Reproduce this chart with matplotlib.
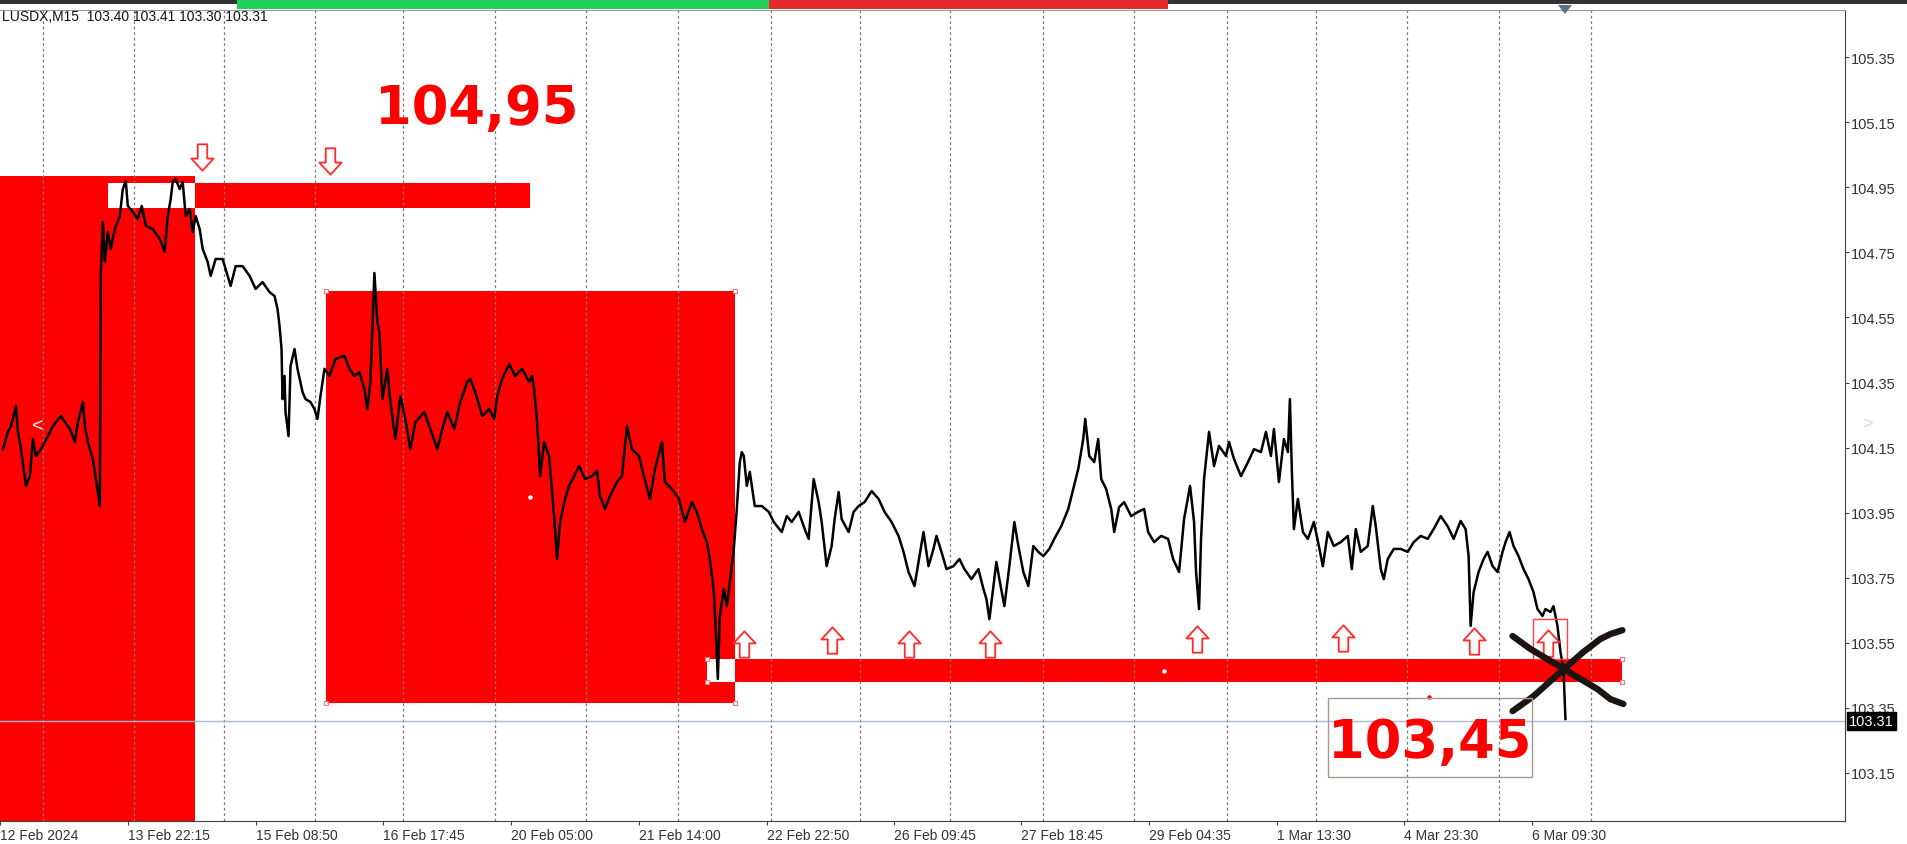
#!/usr/bin/env python3
"""USDX M15 chart with supply / demand zones, redrawn with matplotlib."""

from __future__ import annotations

import matplotlib

matplotlib.use("Agg")
import matplotlib.pyplot as plt
from matplotlib.patches import Rectangle
from matplotlib.path import Path

W, H = 1907, 845
FONT = "Liberation Sans"
BIG_FONT = "DejaVu Sans"
RED = "#ff0000"

HEADER = "LUSDX,M15  103.40 103.41 103.30 103.31"
CURRENT_PRICE = 103.31

# price line: bar index -> close
BARS = [0, 5, 8, 13, 15, 18, 23, 27, 30, 33, 38, 45, 50, 58, 67, 72, 75, 80, 82, 85, 90, 93, 97,
        98, 100, 102, 105, 108, 112, 117, 120, 123, 125, 130, 135, 139, 143, 150, 157, 162, 165,
        168, 170, 173, 177, 180, 183, 187, 190, 193, 197, 200, 205, 208, 213, 220, 223, 228, 233,
        240, 247, 253, 260, 267, 272, 275, 277, 279, 280, 282, 283, 286, 288, 292, 295, 300, 303,
        308, 312, 315, 318, 322, 327, 333, 342, 347, 352, 357, 362, 365, 368, 372, 375, 377, 380,
        385, 388, 393, 398, 403, 408, 413, 422, 428, 435, 440, 445, 452, 458, 465, 468, 473, 480,
        487, 492, 495, 500, 507, 513, 520, 527, 530, 532, 535, 538, 542, 547, 552, 555, 558, 563,
        567, 572, 577, 583, 590, 595, 598, 603, 608, 615, 620, 625, 630, 637, 642, 648, 653, 660,
        663, 670, 677, 683, 690, 695, 700, 705, 708, 712, 714, 716, 718, 722, 725, 728, 732, 735,
        738, 740, 742, 745, 748, 753, 760, 767, 772, 780, 785, 790, 797, 803, 807, 812, 817, 820,
        825, 830, 833, 837, 840, 847, 852, 857, 863, 870, 877, 883, 890, 897, 902, 907, 913, 918,
        922, 927, 932, 935, 940, 945, 952, 958, 963, 970, 977, 982, 985, 988, 992, 995, 998, 1003,
        1008, 1013, 1017, 1022, 1027, 1032, 1037, 1042, 1048, 1053, 1060, 1067, 1072, 1077, 1082,
        1084, 1088, 1093, 1097, 1100, 1105, 1110, 1113, 1118, 1123, 1130, 1137, 1143, 1147, 1153,
        1160, 1167, 1172, 1178, 1183, 1189, 1193, 1195, 1198, 1200, 1203, 1208, 1213, 1218, 1225,
        1228, 1233, 1240, 1247, 1253, 1260, 1265, 1270, 1273, 1278, 1283, 1287, 1289, 1291, 1293,
        1297, 1302, 1307, 1313, 1318, 1322, 1327, 1333, 1340, 1347, 1351, 1355, 1360, 1367, 1372,
        1375, 1380, 1383, 1387, 1393, 1400, 1407, 1413, 1420, 1427, 1433, 1440, 1447, 1453, 1460,
        1465, 1468, 1470, 1473, 1478, 1483, 1487, 1492, 1497, 1502, 1505, 1509, 1513, 1518, 1523,
        1528, 1533, 1537, 1542, 1545, 1550, 1553, 1557, 1560, 1563, 1565]
PRICES = [104.145, 104.198, 104.216, 104.278, 104.198, 104.145, 104.032, 104.062, 104.176, 104.124,
          104.145, 104.185, 104.216, 104.247, 104.207, 104.167, 104.228, 104.290, 104.216, 104.167,
          104.115, 104.053, 103.970, 104.690, 104.844, 104.721, 104.813, 104.761, 104.822, 104.862,
          104.945, 104.970, 104.893, 104.875, 104.853, 104.893, 104.832, 104.822, 104.792, 104.752,
          104.862, 104.915, 104.967, 104.976, 104.945, 104.967, 104.862, 104.884, 104.813, 104.862,
          104.822, 104.761, 104.721, 104.678, 104.730, 104.730, 104.699, 104.647, 104.708, 104.708,
          104.678, 104.638, 104.659, 104.628, 104.616, 104.576, 104.524, 104.453, 104.299, 104.370,
          104.259, 104.185, 104.401, 104.453, 104.392, 104.321, 104.299, 104.290, 104.268, 104.238,
          104.308, 104.392, 104.370, 104.422, 104.432, 104.392, 104.370, 104.382, 104.330, 104.268,
          104.352, 104.687, 104.536, 104.505, 104.299, 104.392, 104.290, 104.176, 104.308, 104.238,
          104.145, 104.228, 104.259, 104.207, 104.145, 104.207, 104.259, 104.207, 104.290, 104.352,
          104.361, 104.321, 104.247, 104.268, 104.238, 104.308, 104.361, 104.407, 104.370, 104.392,
          104.352, 104.370, 104.330, 104.228, 104.062, 104.167, 104.124, 103.939, 103.807, 103.921,
          103.992, 104.032, 104.062, 104.093, 104.053, 104.062, 104.078, 104.001, 103.961, 104.001,
          104.044, 104.062, 104.216, 104.145, 104.124, 104.062, 103.992, 104.084, 104.167, 104.044,
          104.022, 103.992, 103.921, 103.982, 103.952, 103.899, 103.859, 103.807, 103.705, 103.582,
          103.438, 103.632, 103.715, 103.662, 103.736, 103.838, 103.961, 104.105, 104.136, 104.124,
          104.032, 104.075, 103.970, 103.970, 103.952, 103.921, 103.890, 103.939, 103.921, 103.952,
          103.899, 103.869, 104.053, 103.982, 103.921, 103.785, 103.847, 103.930, 104.013, 103.930,
          103.890, 103.952, 103.970, 103.982, 104.016, 103.992, 103.952, 103.921, 103.878, 103.829,
          103.767, 103.724, 103.816, 103.890, 103.785, 103.838, 103.878, 103.829, 103.776, 103.785,
          103.807, 103.776, 103.745, 103.776, 103.715, 103.684, 103.622, 103.724, 103.798, 103.745,
          103.662, 103.785, 103.921, 103.847, 103.767, 103.724, 103.847, 103.829, 103.816, 103.838,
          103.869, 103.908, 103.961, 104.022, 104.084, 104.176, 104.238, 104.124, 104.105, 104.176,
          104.053, 104.022, 103.961, 103.890, 103.967, 103.982, 103.939, 103.952, 103.961, 103.890,
          103.859, 103.878, 103.869, 103.807, 103.767, 103.930, 104.032, 103.921, 103.767, 103.653,
          103.869, 104.053, 104.198, 104.093, 104.155, 104.124, 104.167, 104.115, 104.062, 104.105,
          104.145, 104.136, 104.198, 104.124, 104.207, 104.044, 104.176, 104.136, 104.299, 104.075,
          103.899, 103.992, 103.890, 103.869, 103.921, 103.847, 103.785, 103.890, 103.847, 103.859,
          103.878, 103.776, 103.899, 103.829, 103.847, 103.970, 103.908, 103.776, 103.745, 103.807,
          103.838, 103.838, 103.829, 103.859, 103.878, 103.869, 103.899, 103.939, 103.908, 103.869,
          103.924, 103.899, 103.816, 103.601, 103.705, 103.767, 103.807, 103.829, 103.785, 103.767,
          103.829, 103.859, 103.890, 103.847, 103.816, 103.776, 103.745, 103.705, 103.653, 103.632,
          103.653, 103.644, 103.662, 103.601, 103.521, 103.469, 103.315]

# x axis labels and the bars they sit on
TICK_BARS = [-3, 125, 253, 381, 509, 637, 765, 892, 1020, 1148, 1276, 1403, 1531]
TICK_LABELS = ["12 Feb 2024", "13 Feb 22:15", "15 Feb 08:50", "16 Feb 17:45", "20 Feb 05:00",
               "21 Feb 14:00", "22 Feb 22:50", "26 Feb 09:45", "27 Feb 18:45", "29 Feb 04:35",
               "1 Mar 13:30", "4 Mar 23:30", "6 Mar 09:30"]
GRID_BARS = [40, 131, 221, 313, 401, 493, 584, 676, 769, 858, 949, 1042, 1133, 1226, 1315, 1406,
             1498, 1591]
PRICE_TICKS = [103.15, 103.35, 103.55, 103.75, 103.95, 104.15, 104.35, 104.55, 104.75, 104.95,
               105.15, 105.35]

# zones: (bar from, bar to, price low, price high)
BIG_ZONE = (-10, 192, 102.9, 104.986)
MID_ZONE = (324, 733, 103.364, 104.632)
SELL_ZONE = (105, 528, 104.887, 104.963)
BUY_ZONE = (705, 1622, 103.428, 103.499)

DOWN_ARROWS_X = [199, 328]
DOWN_ARROWS_Y = [105.044, 105.032]
UP_ARROWS_X = [742, 830, 907, 989, 1196, 1342, 1473, 1548]
UP_ARROWS_Y = [103.545, 103.558, 103.545, 103.545, 103.561, 103.564, 103.555, 103.548]

# hand-drawn cross over the last bars
CROSS_A_X = [1512, 1530, 1560, 1580, 1597, 1610, 1623]
CROSS_A_Y = [103.570, 103.530, 103.475, 103.438, 103.407, 103.376, 103.361]
CROSS_B_X = [1512, 1533, 1560, 1583, 1600, 1610, 1622]
CROSS_B_Y = [103.339, 103.385, 103.459, 103.521, 103.561, 103.576, 103.588]


def arrow_path(up: bool) -> Path:
    s = 1 if up else -1
    pts = [(0, 0.5), (0.42, 0.04), (0.18, 0.04), (0.18, -0.5), (-0.18, -0.5), (-0.18, 0.04),
           (-0.42, 0.04), (0, 0.5)]
    return Path([(x, s * y) for x, y in pts], closed=True)


def rect(ax, zone, color, z=1, **kw):
    x0, x1, y0, y1 = zone
    ax.add_patch(Rectangle((x0, y0), x1 - x0, y1 - y0, facecolor=color, edgecolor="none",
                           zorder=z, **kw))


def xor_overlap(a, b):
    return (max(a[0], b[0]), min(a[1], b[1]), max(a[2], b[2]), min(a[3], b[3]))


def fx(px: float) -> float:
    return px / W


def fy(py: float) -> float:
    return 1 - py / H


def main() -> int:
    fig = plt.figure(figsize=(W / 100, H / 100), dpi=100)
    fig.patch.set_facecolor("white")

    # terminal strip at the very top
    fig.add_artist(Rectangle((0, fy(5)), 1, 5 / H, transform=fig.transFigure,
                             facecolor="#333333", edgecolor="none"))
    fig.add_artist(Rectangle((fx(237), fy(10)), fx(532), 10 / H, transform=fig.transFigure,
                             facecolor="#22d05a", edgecolor="none"))
    fig.add_artist(Rectangle((fx(769), fy(10)), fx(399), 10 / H, transform=fig.transFigure,
                             facecolor="#e52a2a", edgecolor="none"))

    ax = fig.add_axes([0, fy(822), fx(1845), (822 - 11) / H])
    ax.set_xlim(0, 1845)
    ax.set_ylim(103.001, 105.496)
    ax.set_facecolor("white")

    # zones (MT4 draws overlapping rectangles in XOR, so overlaps become white)
    rect(ax, BIG_ZONE, RED)
    rect(ax, MID_ZONE, RED)
    rect(ax, SELL_ZONE, RED)
    rect(ax, BUY_ZONE, RED)
    rect(ax, xor_overlap(SELL_ZONE, BIG_ZONE), "white", z=1.5)
    rect(ax, xor_overlap(BUY_ZONE, MID_ZONE), "white", z=1.5)

    corners_x = [MID_ZONE[0], MID_ZONE[1], MID_ZONE[0], MID_ZONE[1], BUY_ZONE[1], BUY_ZONE[1],
                 BUY_ZONE[0], BUY_ZONE[0]]
    corners_y = [MID_ZONE[3], MID_ZONE[3], MID_ZONE[2], MID_ZONE[2], BUY_ZONE[3], BUY_ZONE[2],
                 BUY_ZONE[3], BUY_ZONE[2]]
    ax.plot(corners_x, corners_y, ls="none", marker="s", ms=3.5, mfc="white", mec="#ff7070",
            mew=0.8, zorder=2.5)

    ax.vlines(GRID_BARS, 103.001, 105.496, colors="#7a7a7a", linestyles=(0, (2.2, 2.2)),
              linewidth=0.9, zorder=2)
    ax.axhline(CURRENT_PRICE, color="#a9b8cc", lw=1.0, zorder=2)

    ax.plot(BARS, PRICES, color="black", lw=1.8, zorder=3)

    ax.plot(DOWN_ARROWS_X, DOWN_ARROWS_Y, ls="none", marker=arrow_path(False), ms=19,
            mfc="white", mec="#ff2a2a", mew=1.3, zorder=4)
    ax.plot(UP_ARROWS_X, UP_ARROWS_Y, ls="none", marker=arrow_path(True), ms=19,
            mfc="white", mec="#ff2a2a", mew=1.3, zorder=4)

    # little marked box around the last up arrow
    ax.add_patch(Rectangle((1532, 103.499), 35, 0.123, facecolor="none", edgecolor="#ff4040",
                           lw=1.0, zorder=4))

    # specks left on the chart
    ax.scatter([528, 1163], [103.998, 103.462], s=5, color="white", zorder=3.5)
    ax.scatter([1428], [103.382], s=5, color=RED, zorder=3.5)
    ax.text(35, 104.216, "<", color="white", fontsize=14, ha="center", va="center",
            family=FONT, zorder=3.5)

    ax.plot(CROSS_A_X, CROSS_A_Y, color="#1c1410", lw=4.6, solid_capstyle="round", zorder=5)
    ax.plot(CROSS_B_X, CROSS_B_Y, color="#1c1410", lw=4.6, solid_capstyle="round", zorder=5)

    ax.text(474, 105.193, "104,95", color=RED, fontsize=38, fontweight="bold", family=BIG_FONT,
            ha="center", va="center", zorder=6)
    ax.add_patch(Rectangle((1327, 103.136), 204, 0.243, facecolor="none", edgecolor="#a39b8f",
                           lw=1.0, zorder=5))
    ax.text(1429, 103.244, "103,45", color=RED, fontsize=38, fontweight="bold", family=BIG_FONT,
            ha="center", va="center", zorder=6)

    # axes look of the terminal
    ax.spines["left"].set_visible(False)
    ax.spines["top"].set_color("#9a9a9a")
    ax.spines["right"].set_color("#404040")
    ax.spines["bottom"].set_color("#404040")
    ax.yaxis.tick_right()
    ax.set_yticks(PRICE_TICKS, [f"{p:.2f}" for p in PRICE_TICKS])
    ax.set_xticks(TICK_BARS, TICK_LABELS)
    for lab in ax.get_xticklabels():
        lab.set_horizontalalignment("left")
    ax.tick_params(axis="x", direction="out", length=3, pad=2, labelsize=10,
                   colors="#404040", labelcolor="#333333")
    ax.tick_params(axis="y", direction="out", length=3, pad=1.5, labelsize=10.5,
                   colors="#404040", labelcolor="#333333")
    for lab in ax.get_xticklabels() + ax.get_yticklabels():
        lab.set_family(FONT)

    fig.text(fx(2), fy(17), HEADER, fontsize=10, family=FONT, color="#111111", va="center")
    fig.text(fx(1849), fy(722), f"{CURRENT_PRICE:.2f}", fontsize=10.5, family=FONT,
             color="white", va="center", ha="left",
             bbox=dict(boxstyle="square,pad=0.15", facecolor="black", edgecolor="black"))
    fig.text(fx(1867), fy(425), ">", fontsize=13, family=FONT, color="#d8d8d8",
             ha="center", va="center")
    fig.add_artist(plt.Polygon([(fx(1558), fy(6)), (fx(1572), fy(6)), (fx(1565), fy(15))],
                               closed=True, transform=fig.transFigure, facecolor="#5c7088",
                               edgecolor="none"))

    fig.savefig("out.png", dpi=100, facecolor="white")
    plt.close(fig)
    return 0


if __name__ == "__main__":
    raise SystemExit(main())
